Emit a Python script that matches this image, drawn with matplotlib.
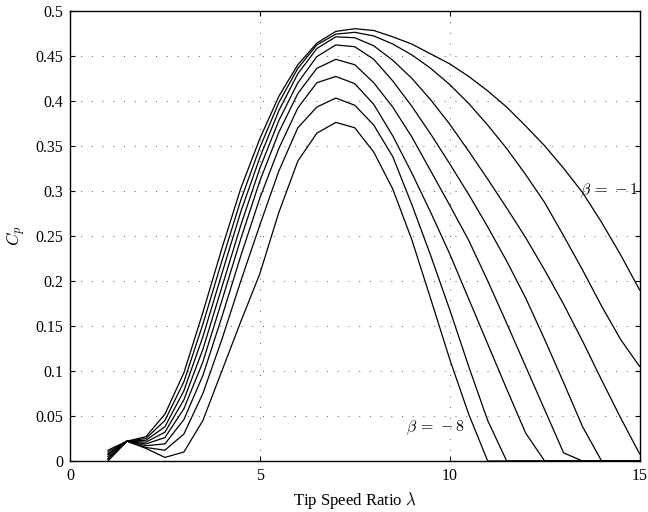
import numpy as np
import matplotlib
matplotlib.use("Agg")
import matplotlib.pyplot as plt

plt.rcParams['font.family'] = ['Liberation Serif', 'DejaVu Serif']
plt.rcParams['mathtext.fontset'] = 'cm'

# tip speed ratio samples (step 0.5)
lam = [1.0, 1.5, 2.0, 2.5, 3.0, 3.5, 4.0, 4.5, 5.0, 5.5, 6.0, 6.5, 7.0, 7.5, 8.0,
       8.5, 9.0, 9.5, 10.0, 10.5, 11.0, 11.5, 12.0, 12.5, 13.0, 13.5, 14.0, 14.5, 15.0]

# Cp curves, one per pitch angle (beta = -1 ... -8), negative values cut to 0
cp_b1 = [0.000, 0.022, 0.027, 0.052, 0.098, 0.165, 0.236, 0.303, 0.358, 0.405, 0.440, 0.464, 0.477, 0.480, 0.478,
         0.471, 0.463, 0.452, 0.441, 0.427, 0.411, 0.393, 0.372, 0.350, 0.325, 0.298, 0.265, 0.229, 0.190]
cp_b2 = [0.002, 0.022, 0.025, 0.045, 0.088, 0.152, 0.222, 0.290, 0.348, 0.398, 0.436, 0.462, 0.474, 0.476, 0.472,
         0.463, 0.451, 0.436, 0.418, 0.397, 0.373, 0.347, 0.318, 0.287, 0.250, 0.212, 0.172, 0.135, 0.105]
cp_b3 = [0.003, 0.022, 0.023, 0.038, 0.078, 0.138, 0.208, 0.277, 0.337, 0.389, 0.430, 0.458, 0.471, 0.470, 0.461,
         0.445, 0.425, 0.401, 0.374, 0.344, 0.313, 0.281, 0.248, 0.212, 0.174, 0.133, 0.090, 0.048, 0.008]
cp_b4 = [0.005, 0.022, 0.021, 0.032, 0.068, 0.124, 0.193, 0.262, 0.325, 0.378, 0.420, 0.449, 0.462, 0.460, 0.446,
         0.422, 0.394, 0.363, 0.330, 0.296, 0.260, 0.222, 0.181, 0.135, 0.087, 0.038, 0.000, 0.000, 0.000]
cp_b5 = [0.007, 0.022, 0.019, 0.026, 0.058, 0.110, 0.178, 0.247, 0.311, 0.365, 0.408, 0.436, 0.446, 0.440, 0.420,
         0.393, 0.360, 0.322, 0.284, 0.245, 0.200, 0.153, 0.105, 0.057, 0.009, 0.000, 0.000, 0.000, 0.000]
cp_b6 = [0.008, 0.022, 0.017, 0.019, 0.046, 0.095, 0.160, 0.228, 0.292, 0.347, 0.392, 0.420, 0.427, 0.419, 0.396,
         0.361, 0.320, 0.276, 0.230, 0.180, 0.130, 0.080, 0.031, 0.000, 0.000, 0.000, 0.000, 0.000, 0.000]
cp_b7 = [0.010, 0.022, 0.015, 0.012, 0.030, 0.075, 0.135, 0.200, 0.262, 0.322, 0.370, 0.393, 0.403, 0.395, 0.373,
         0.338, 0.285, 0.228, 0.168, 0.105, 0.045, 0.000, 0.000, 0.000, 0.000, 0.000, 0.000, 0.000, 0.000]
cp_b8 = [0.012, 0.022, 0.014, 0.004, 0.010, 0.045, 0.100, 0.155, 0.208, 0.276, 0.333, 0.364, 0.376, 0.370, 0.343,
         0.302, 0.246, 0.180, 0.113, 0.052, 0.000, 0.000, 0.000, 0.000, 0.000, 0.000, 0.000, 0.000, 0.000]

curves = [cp_b1, cp_b2, cp_b3, cp_b4, cp_b5, cp_b6, cp_b7, cp_b8]

fig = plt.figure(figsize=(6.48, 5.12), dpi=100)
ax = fig.add_axes([0.108, 0.0996, 0.879, 0.8795])

for cp in curves:
    ax.plot(lam, cp, color='k', linewidth=0.9)

ax.set_xlim(0, 15)
ax.set_ylim(0, 0.5)
ax.set_xticks([0, 5, 10, 15])
ax.set_yticks(np.arange(0, 0.501, 0.05))
ax.set_yticklabels(['0', '0.05', '0.1', '0.15', '0.2', '0.25', '0.3', '0.35', '0.4', '0.45', '0.5'])
ax.grid(True, color='0.35', linestyle=(0, (1, 10)), linewidth=0.7)
ax.tick_params(direction='in', top=True, right=True, length=3.6, width=0.8, labelsize=11.5, pad=5)
for s in ax.spines.values():
    s.set_linewidth(1.0)

ax.set_xlabel(r'Tip Speed Ratio $\lambda$', fontsize=12, labelpad=4)
ax.set_ylabel(r'$C_p$', fontsize=12.5, labelpad=5)

ax.text(13.43, 0.30, r'$\beta\,=\,-1$', fontsize=11.5, va='center', ha='left')
ax.text(8.84, 0.037, r'$\beta\,=\,-8$', fontsize=11.5, va='center', ha='left')

fig.savefig('out.png', dpi=100)
